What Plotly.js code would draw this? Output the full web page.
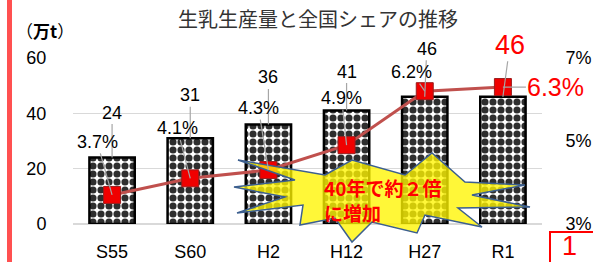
<!DOCTYPE html>
<html>
<head>
<meta charset="utf-8">
<script src="https://cdn.plot.ly/plotly-3.0.1.min.js"></script>
<style>html,body{margin:0;padding:0;background:#fff;}#chart{width:593px;height:262px;}</style>
</head>
<body>
<div id="chart"></div>
<script>
// ---- data ----
const categories = ['S55', 'S60', 'H2', 'H12', 'H27', 'R1'];
const production = [24, 31, 36, 41, 46, 46];      // 万t
const share = [3.7, 4.1, 4.3, 4.9, 6.2, 6.3];     // 全国シェア %
const leftTicks = [0, 20, 40, 60];
const rightTicks = [3, 5, 7];
const rightTickText = ['3%', '5%', '7%'];

// ---- label placement (pixel offsets) ----
const prodOffX = [0, 0, 0, 0, 2, 7];
const prodOffY = [-45, -43, -47, -39, -48, -52];
const shareOffX = [-15, -13, -10, -5, -13, 53];
const shareOffY = [-53, -50, -62, -47, -19, 0];

const FONT = 'Liberation Sans, Arial, "Noto Sans CJK JP", sans-serif';
const JP = '"Noto Sans CJK JP", sans-serif';

// plot area in pixels
const L = 73, R = 542, T = 58, B = 224;
const W = 593, H = 262;
function px(x) { return (x - L) / (R - L); }
function py(y) { return (B - y) / (B - T); }

// explosion decoration vertices (pixel positions)
const starPx = [[238,160],[295,180],[234,187],[285,197],[237,213],[303,205],[300,225],[335,218],
  [352,242],[372,222],[417,233],[425,215],[482,227],[458,208],[530,207],[472,195],[525,185],
  [465,182],[432,153],[405,175],[352,160],[325,175]];
const starPath = starPx.map((p, i) => (i ? 'L' : 'M') + px(p[0]).toFixed(4) + ',' + py(p[1]).toFixed(4)).join(' ') + ' Z';

const bars = {
  type: 'bar', x: categories, y: production, width: 0.58,
  marker: {
    color: '#ffffff',
    line: { color: '#000000', width: 2.5 },
    pattern: { shape: '.', fgcolor: '#2e2e2e', bgcolor: '#ffffff', size: 8, solidity: 0.62 }
  },
  hoverinfo: 'skip', showlegend: false
};
const line = {
  type: 'scatter', mode: 'lines+markers', x: categories, y: share, yaxis: 'y2',
  line: { color: '#c0504d', width: 3 },
  marker: { symbol: 'square', size: 17, color: '#f00000', line: { color: '#9b1c1c', width: 1 } },
  hoverinfo: 'skip', showlegend: false
};

const annotations = [];
categories.forEach((c, i) => {
  const last = i === categories.length - 1;
  annotations.push({
    x: c, y: production[i], xref: 'x', yref: 'y', text: String(production[i]),
    showarrow: true, arrowhead: 0, arrowwidth: 1.2, arrowcolor: '#a6a6a6',
    ax: prodOffX[i], ay: prodOffY[i],
    font: { family: FONT, size: last ? 27 : 18, color: last ? '#ff0000' : '#000000' }
  });
  annotations.push({
    x: c, y: share[i], xref: 'x', yref: 'y2', text: share[i].toFixed(1) + '%',
    showarrow: true, arrowhead: 0, arrowwidth: 1.2, arrowcolor: '#a6a6a6',
    ax: shareOffX[i], ay: shareOffY[i],
    font: { family: FONT, size: last ? 25 : 18, color: last ? '#ff0000' : '#000000' }
  });
});
annotations.push({
  xref: 'paper', yref: 'paper', x: px(322), y: py(200), xanchor: 'left', yanchor: 'middle',
  text: '<b>40年で約２倍</b><br><b>に増加</b>', align: 'left', showarrow: false,
  font: { family: JP, size: 19, color: '#ff0000' }
});
annotations.push({
  xref: 'paper', yref: 'paper', x: px(45), y: py(31), xanchor: 'center', yanchor: 'middle',
  text: '（<b>万t</b>）', showarrow: false,
  font: { family: JP, size: 17, color: '#000000' }
});
annotations.push({
  xref: 'paper', yref: 'paper', x: px(569), y: py(246), xanchor: 'center', yanchor: 'middle',
  text: '1', showarrow: false,
  font: { family: FONT, size: 27, color: '#ff0000' }
});

const layout = {
  width: W, height: H,
  margin: { l: L, r: W - R, t: T, b: H - B, pad: 0 },
  paper_bgcolor: '#ffffff', plot_bgcolor: '#ffffff',
  font: { family: FONT, color: '#000000', size: 18 },
  title: {
    text: '生乳生産量と全国シェアの推移',
    x: 318 / W, xref: 'container', xanchor: 'center',
    y: 1 - 20 / H, yref: 'container', yanchor: 'middle',
    font: { family: JP, size: 20, color: '#333333' }
  },
  xaxis: {
    type: 'category', range: [-0.5, 5.5], showgrid: false, showline: false, zeroline: false,
    ticks: 'outside', ticklen: 11, tickcolor: 'rgba(0,0,0,0)',
    tickfont: { family: FONT, size: 18, color: '#000000' }, fixedrange: true
  },
  yaxis: {
    range: [0, 60], tickvals: leftTicks, showgrid: true, gridcolor: '#d9d9d9', gridwidth: 1,
    zeroline: true, zerolinecolor: '#d9d9d9', zerolinewidth: 1.5, showline: false,
    ticks: 'outside', ticklen: 22, tickcolor: 'rgba(0,0,0,0)',
    tickfont: { family: FONT, size: 18, color: '#000000' }, fixedrange: true
  },
  yaxis2: {
    overlaying: 'y', side: 'right', range: [3, 7], tickvals: rightTicks, ticktext: rightTickText,
    showgrid: false, zeroline: false, showline: false,
    ticks: 'outside', ticklen: 19, tickcolor: 'rgba(0,0,0,0)',
    tickfont: { family: FONT, size: 18, color: '#000000' }, fixedrange: true
  },
  shapes: [
    { type: 'rect', xref: 'paper', yref: 'paper', x0: px(7), x1: px(12), y0: py(300), y1: py(-40),
      fillcolor: '#ff5050', line: { width: 0 }, layer: 'above' },
    { type: 'path', xref: 'paper', yref: 'paper', path: starPath,
      fillcolor: 'rgba(255,245,0,0.78)', line: { color: '#3c5f8f', width: 1.5 }, layer: 'above' },
    { type: 'rect', xref: 'paper', yref: 'paper', x0: px(550), x1: px(600), y0: py(232), y1: py(300),
      fillcolor: 'rgba(0,0,0,0)', line: { color: '#ff0000', width: 2 }, layer: 'above' }
  ],
  annotations: annotations,
  bargap: 0.42
};

Plotly.newPlot('chart', [bars, line], layout, { staticPlot: true, displayModeBar: false });
</script>
</body>
</html>
